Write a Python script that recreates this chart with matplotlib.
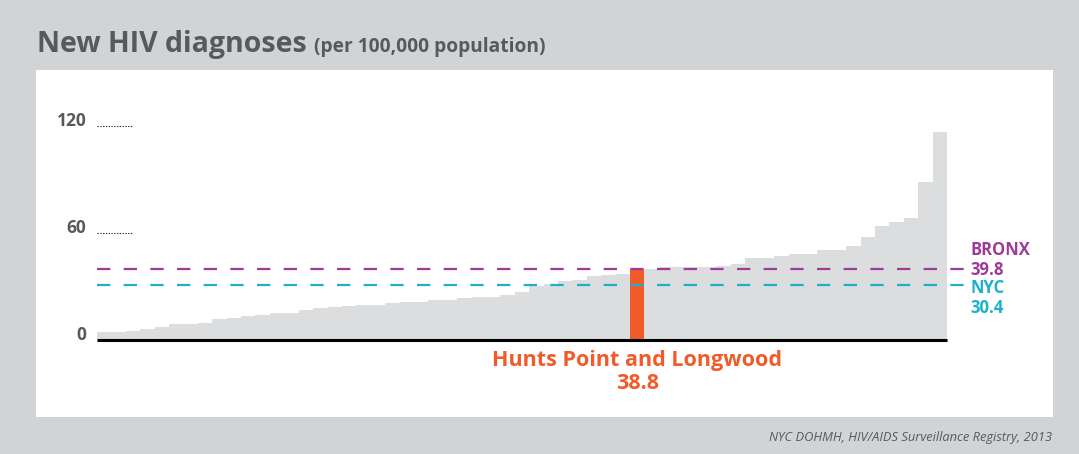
import matplotlib.pyplot as plt
import numpy as np
from matplotlib.patches import Rectangle

plt.rcParams['lines.scale_dashes'] = False

# community districts, sorted by rate (per 100,000)
rates = [4.2, 4.2, 4.9, 5.9, 7.2, 8.7, 8.7, 9.4, 11.5, 12.2,
         13.3, 13.9, 15.0, 15.0, 16.6, 17.7, 18.4, 19.0, 19.5, 19.5,
         20.6, 21.2, 21.2, 22.3, 22.3, 23.4, 24.0, 24.0, 25.1, 26.8,
         30.2, 31.3, 32.8, 33.4, 35.6, 36.2, 36.9, 38.8, 39.5, 40.7,
         40.7, 40.7, 40.7, 41.3, 42.3, 45.8, 45.8, 46.8, 48.0, 48.0,
         50.2, 50.2, 52.4, 57.5, 63.7, 65.9, 68.1, 88.3, 116.4]
highlight_idx = 37
highlight_name = 'Hunts Point and Longwood'
highlight_val = 38.8
bronx = 39.8
nyc = 30.4
yticks = [0, 60, 120]

W, H = 1079, 454
BG = '#d1d3d4'
BAR = '#dcdddf'
DARK = '#58595b'
ORANGE = '#f15a29'
PURPLE = '#9e3a98'
CYAN = '#1cb0cd'
FONT = ['Open Sans', 'DejaVu Sans']

fig = plt.figure(figsize=(W / 100, H / 100), dpi=100)
fig.patch.set_facecolor(BG)

def px(x, y):
    return x / W, 1 - y / H

# white panel
fig.patches.append(Rectangle(px(36, 417), (1053 - 36) / W, (417 - 70) / H,
                             transform=fig.transFigure, facecolor='white',
                             edgecolor='none', zorder=-10))

# axes: x 97..947 px, y value 0 at 339.5 px, 120 at 125.7 px
x0, y0 = px(97, 339.5)
ax = fig.add_axes([x0, y0, (947 - 97) / W, (339.5 - 125.7) / H])
ax.set_zorder(5)
ax.set_facecolor('none')
ax.set_xlim(0, len(rates))
ax.set_ylim(0, 120)
ax.axis('off')

colors = [ORANGE if i == highlight_idx else BAR for i in range(len(rates))]
ax.bar(np.arange(len(rates)), rates, width=1.0, align='edge', color=colors,
       edgecolor='none', zorder=1)

# baseline
ax.plot([0, len(rates)], [0, 0], color='black', lw=2.2, zorder=3,
        solid_capstyle='butt', clip_on=False)

# dotted guide lines and tick labels
for t in yticks:
    if t > 0:
        ax.plot([0, 2.5], [t, t], color='#333333', lw=0.8, ls=(0, (1, 1)),
                clip_on=False)
    ax.text(-0.75, t, str(t), ha='right', va='baseline', fontsize=12.5,
            fontweight='bold', color=DARK, family=FONT)

# reference lines
xend = (965 - 97) / 14.4
ax.plot([0, xend], [bronx, bronx], color=PURPLE, lw=1.6, zorder=2,
        dashes=(9.6, 9.6), clip_on=False)
ax.plot([0, xend], [nyc, nyc], color=CYAN, lw=1.6, zorder=2,
        dashes=(9.6, 9.6), clip_on=False)

lab = dict(ha='left', va='baseline', fontsize=12, fontweight='bold',
           family=FONT)
fig.text(*px(970, 255), 'BRONX', color=PURPLE, **lab)
fig.text(*px(970, 275), '%.1f' % bronx, color=PURPLE, **lab)
fig.text(*px(970, 293), 'NYC', color=CYAN, **lab)
fig.text(*px(970, 313), '%.1f' % nyc, color=CYAN, **lab)

# highlight label
hx = (highlight_idx + 0.5) * (947 - 97) / len(rates) + 97
hl = dict(ha='center', va='baseline', fontsize=15.5, fontweight='bold',
          color=ORANGE, family=FONT)
fig.text(*px(hx, 366), highlight_name, **hl)
fig.text(*px(hx, 389), '%.1f' % highlight_val, **hl)

# title
fig.text(*px(37, 52), 'New HIV diagnoses', ha='left', va='baseline',
         fontsize=20.5, fontweight='bold', color=DARK, family=FONT)
fig.text(*px(314, 52), '(per 100,000 population)', ha='left', va='baseline',
         fontsize=13.8, fontweight='bold', color=DARK, family=FONT)

# source
fig.text(*px(1052, 441), 'NYC DOHMH, HIV/AIDS Surveillance Registry, 2013',
         ha='right', va='baseline', fontsize=9.3, style='italic', color=DARK,
         family=FONT)

fig.savefig('out.png', dpi=100, facecolor=BG)
